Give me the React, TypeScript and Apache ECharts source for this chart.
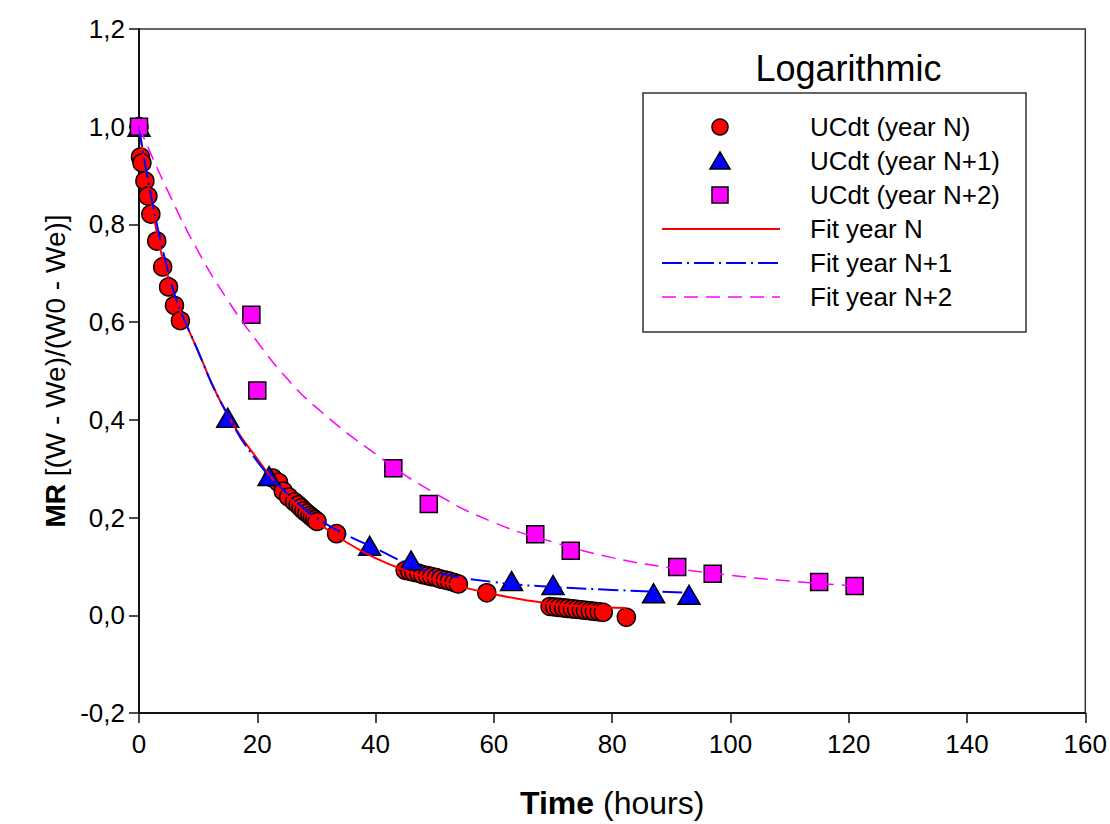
import React, { useEffect, useRef } from "react";
import * as echarts from "echarts";

// ---- data ----
const tYearN = [0, 0.25, 0.5, 1, 1.5, 2, 3, 4, 5, 6, 7, 22.6, 23.6, 24.4, 25.3, 26.3, 26.9, 27.4, 27.9, 28.4, 28.9, 29.3, 29.7, 30.1, 33.4, 45, 45.8, 46.5, 47.3, 48, 48.8, 49.5, 50.3, 51, 51.8, 52.5, 53.3, 54, 58.8, 69.5, 70.3, 71, 71.8, 72.5, 73.3, 74, 74.8, 75.5, 76.3, 77, 77.8, 78.5, 82.4];
const mrYearN = [1.0, 0.938, 0.926, 0.889, 0.858, 0.821, 0.766, 0.713, 0.672, 0.634, 0.603, 0.281, 0.272, 0.254, 0.242, 0.232, 0.226, 0.22, 0.214, 0.209, 0.204, 0.2, 0.196, 0.192, 0.167, 0.092, 0.09, 0.088, 0.086, 0.083, 0.081, 0.079, 0.077, 0.074, 0.072, 0.07, 0.067, 0.064, 0.046, 0.018, 0.017, 0.016, 0.015, 0.014, 0.013, 0.012, 0.011, 0.01, 0.009, 0.008, 0.007, 0.006, -0.004];

const tYearN1 = [0, 15, 22, 39, 46, 63, 70, 87, 93];
const mrYearN1 = [1.0, 0.404, 0.285, 0.142, 0.112, 0.07, 0.062, 0.045, 0.042];

const tYearN2 = [0, 19, 20, 43, 49, 67, 73, 91, 97, 115, 121];
const mrYearN2 = [1.0, 0.615, 0.46, 0.301, 0.228, 0.166, 0.132, 0.099, 0.085, 0.068, 0.06];

const fitT_N = [0, 2, 5, 10, 15, 20, 25, 30, 35, 40, 45, 50, 55, 60, 65, 70, 75, 82.3];
const fitMR_N = [1.0, 0.85, 0.69, 0.54, 0.41, 0.32, 0.245, 0.192, 0.15, 0.117, 0.092, 0.072, 0.057, 0.043, 0.032, 0.023, 0.018, 0.015];

const fitT_N1 = [0, 5, 10, 15, 20, 25, 30, 35, 40, 45, 50, 60, 70, 80, 93];
const fitMR_N1 = [1.0, 0.7, 0.54, 0.41, 0.315, 0.25, 0.2, 0.165, 0.137, 0.108, 0.088, 0.068, 0.058, 0.052, 0.046];

const fitT_N2 = [0, 5, 10, 15, 20, 25, 30, 40, 50, 60, 70, 80, 90, 100, 110, 121];
const fitMR_N2 = [1.0, 0.865, 0.745, 0.645, 0.56, 0.485, 0.425, 0.33, 0.25, 0.19, 0.15, 0.118, 0.097, 0.082, 0.07, 0.06];

const legendLabels = ["UCdt (year N)", "UCdt (year N+1)", "UCdt (year N+2)", "Fit year N", "Fit year N+1", "Fit year N+2"];
const chartTitle = "Logarithmic";

const FONT = "'Liberation Sans', Arial, sans-serif";
const RED = "#ff0000";
const BLUE = "#0000ff";
const MAGENTA = "#ff00ff";

const zip = (a: number[], b: number[]) => a.map((v, i) => [v, b[i]]);

export default function App() {
  const ref = useRef<HTMLDivElement>(null);

  useEffect(() => {
    document.body.style.margin = "0";
    if (!ref.current) return;
    const chart = echarts.init(ref.current, null, { renderer: "svg" });

    const L = { x: 643, y: 93, w: 383, h: 239 };
    const markX = 720;
    const textX = 810;
    const rows = [127, 161, 195, 229, 263, 297];
    const txt = (i: number) => ({
      type: "text",
      x: textX,
      y: rows[i],
      style: { text: legendLabels[i], font: `26px ${FONT}`, fill: "#000", textVerticalAlign: "middle" },
    });

    chart.setOption({
      animation: false,
      backgroundColor: "#fff",
      textStyle: { fontFamily: FONT },
      grid: {
        left: 139,
        right: 24,
        top: 29,
        bottom: 111,
        show: true,
        borderColor: "#333",
        borderWidth: 1.5,
        backgroundColor: "transparent",
      },
      xAxis: {
        type: "value",
        min: 0,
        max: 160,
        interval: 20,
        splitLine: { show: false },
        axisLine: { show: true, onZero: false, lineStyle: { color: "#111", width: 2 } },
        axisTick: { show: true, inside: false, length: 10, lineStyle: { color: "#111", width: 1.5 } },
        axisLabel: { color: "#000", fontSize: 26, margin: 18, fontFamily: FONT },
        name: "{b|Time} (hours)",
        nameLocation: "middle",
        nameGap: 74,
        nameTextStyle: {
          fontSize: 32,
          color: "#000",
          fontFamily: FONT,
          rich: { b: { fontSize: 32, fontWeight: "bold", fontFamily: FONT, color: "#000" } },
        },
      },
      yAxis: {
        type: "value",
        min: -0.2,
        max: 1.2,
        interval: 0.2,
        splitLine: { show: false },
        axisLine: { show: true, onZero: false, lineStyle: { color: "#111", width: 2 } },
        axisTick: { show: true, inside: false, length: 10, lineStyle: { color: "#111", width: 1.5 } },
        axisLabel: {
          color: "#000",
          fontSize: 26,
          margin: 14,
          fontFamily: FONT,
          formatter: (v: number) => (Math.abs(v) < 1e-9 ? 0 : v).toFixed(1).replace(".", ","),
        },
        name: "{b|MR} [(W - We)/(W0 - We)]",
        nameLocation: "middle",
        nameGap: 66,
        nameRotate: 90,
        nameTextStyle: {
          fontSize: 28,
          color: "#000",
          fontFamily: FONT,
          rich: { b: { fontSize: 28, fontWeight: "bold", fontFamily: FONT, color: "#000" } },
        },
      },
      series: [
        {
          name: legendLabels[0],
          type: "scatter",
          data: zip(tYearN, mrYearN),
          symbol: "circle",
          symbolSize: 18,
          itemStyle: { color: RED, borderColor: "#000", borderWidth: 1.5, opacity: 1 },
          z: 3,
        },
        {
          name: legendLabels[1],
          type: "scatter",
          data: zip(tYearN1, mrYearN1),
          symbol: "triangle",
          symbolSize: [22, 19],
          itemStyle: { color: BLUE, borderColor: "#000", borderWidth: 1.5, opacity: 1 },
          z: 3,
        },
        {
          name: legendLabels[2],
          type: "scatter",
          data: zip(tYearN2, mrYearN2),
          symbol: "rect",
          symbolSize: 17,
          itemStyle: { color: MAGENTA, borderColor: "#000", borderWidth: 1.5, opacity: 1 },
          z: 3,
        },
        {
          name: legendLabels[3],
          type: "line",
          data: zip(fitT_N, fitMR_N),
          smooth: true,
          showSymbol: false,
          symbol: "none",
          lineStyle: { color: RED, width: 2, type: "solid" },
          z: 4,
        },
        {
          name: legendLabels[4],
          type: "line",
          data: zip(fitT_N1, fitMR_N1),
          smooth: true,
          showSymbol: false,
          symbol: "none",
          lineStyle: { color: BLUE, width: 2, type: [20, 5, 2, 5] },
          z: 4,
        },
        {
          name: legendLabels[5],
          type: "line",
          data: zip(fitT_N2, fitMR_N2),
          smooth: true,
          showSymbol: false,
          symbol: "none",
          lineStyle: { color: MAGENTA, width: 1.5, type: [14, 8] },
          z: 4,
        },
      ],
      graphic: [
        {
          type: "text",
          x: L.x + L.w / 2 + 14,
          y: 68,
          style: { text: chartTitle, font: `36px ${FONT}`, fill: "#000", textAlign: "center", textVerticalAlign: "middle" },
        },
        {
          type: "rect",
          shape: { x: L.x, y: L.y, width: L.w, height: L.h },
          style: { fill: "#fff", stroke: "#333", lineWidth: 1.5 },
        },
        {
          type: "circle",
          shape: { cx: markX, cy: rows[0], r: 8 },
          style: { fill: RED, stroke: "#000", lineWidth: 1.5 },
        },
        {
          type: "polygon",
          shape: { points: [[markX, rows[1] - 9], [markX + 10, rows[1] + 8], [markX - 10, rows[1] + 8]] },
          style: { fill: BLUE, stroke: "#000", lineWidth: 1.5 },
        },
        {
          type: "rect",
          shape: { x: markX - 8, y: rows[2] - 8, width: 16, height: 16 },
          style: { fill: MAGENTA, stroke: "#000", lineWidth: 1.5 },
        },
        {
          type: "line",
          shape: { x1: 662, y1: rows[3], x2: 780, y2: rows[3] },
          style: { stroke: RED, lineWidth: 2 },
        },
        {
          type: "line",
          shape: { x1: 662, y1: rows[4], x2: 780, y2: rows[4] },
          style: { stroke: BLUE, lineWidth: 2, lineDash: [20, 5, 2, 5] },
        },
        {
          type: "line",
          shape: { x1: 662, y1: rows[5], x2: 780, y2: rows[5] },
          style: { stroke: MAGENTA, lineWidth: 1.5, lineDash: [14, 8] },
        },
        txt(0),
        txt(1),
        txt(2),
        txt(3),
        txt(4),
        txt(5),
      ],
    });

    return () => chart.dispose();
  }, []);

  return <div ref={ref} style={{ width: 1110, height: 824 }} />;
}
